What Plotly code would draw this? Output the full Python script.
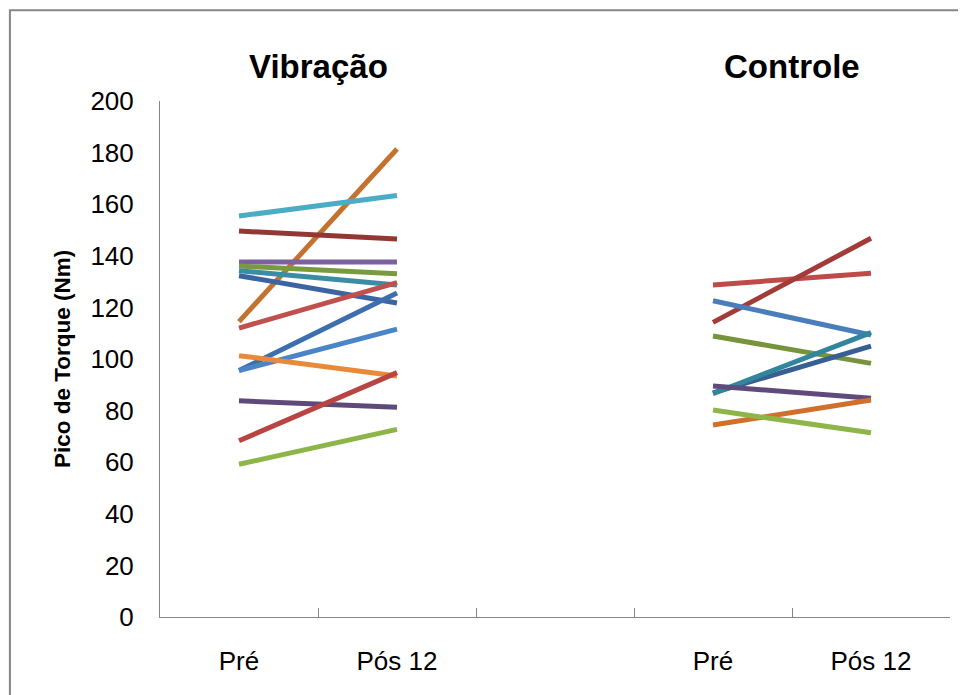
import plotly.graph_objects as go

# ---- data ----
categories = ["Pré", "Pós 12", "", "Pré", "Pós 12"]
group_titles = ["Vibração", "Controle"]
y_title = "Pico de Torque (Nm)"
y_ticks = [0, 20, 40, 60, 80, 100, 120, 140, 160, 180, 200]

vibracao_pre = [114.5, 155.4, 149.6, 137.6, 136.0, 134.2, 132.3, 112.0, 95.5, 95.5, 101.3, 83.8, 68.3, 59.2]
vibracao_pos = [181.4, 163.4, 146.5, 137.6, 133.0, 128.7, 121.7, 129.6, 125.6, 111.6, 93.4, 81.3, 94.7, 72.7]

controle_pre = [128.7, 114.2, 122.6, 108.9, 86.9, 86.6, 89.5, 74.4, 80.2]
controle_pos = [133.2, 146.8, 109.3, 98.3, 105.0, 110.2, 84.8, 84.1, 71.4]

# ---- styles ----
vib_colors = ["#C47230", "#4BACC6", "#943634", "#7D60A0", "#7A9A3F", "#3A8DA5", "#3B64A0",
              "#C0504D", "#3D6FB0", "#4A85C8", "#E98A3B", "#5F497A", "#B94441", "#8DB548"]
ctl_colors = ["#BE4B48", "#A33B39", "#4A7EBB", "#77933C", "#376092", "#31859C", "#604A7B",
              "#D0702A", "#8DB548"]

FONT = "Liberation Sans, Arial, sans-serif"
GRAY = "#868686"
LW = 5

pos = list(range(len(categories)))
vib_x = [pos[0], pos[1]]
ctl_x = [pos[3], pos[4]]

fig = go.Figure()
for pre, post, col in zip(vibracao_pre, vibracao_pos, vib_colors):
    fig.add_trace(go.Scatter(x=vib_x, y=[pre, post], mode="lines",
                             line=dict(color=col, width=LW), showlegend=False, hoverinfo="y"))
for pre, post, col in zip(controle_pre, controle_pos, ctl_colors):
    fig.add_trace(go.Scatter(x=ctl_x, y=[pre, post], mode="lines",
                             line=dict(color=col, width=LW), showlegend=False, hoverinfo="y"))
# invisible trace so the label axis is drawn
fig.add_trace(go.Scatter(x=[pos[0]], y=[None], xaxis="x2", mode="lines",
                         showlegend=False, hoverinfo="skip"))

xr = [pos[0] - 0.5, pos[-1] + 0.5]
boundaries = [p + 0.5 for p in [pos[0] - 1] + pos]

fig.update_layout(
    width=966, height=695,
    margin=dict(l=152, r=24, t=93, b=86),
    plot_bgcolor="white", paper_bgcolor="white",
    font=dict(family=FONT, color="black"),
    xaxis=dict(range=xr, tickvals=boundaries, showticklabels=False, ticks="inside",
               ticklen=9, tickcolor=GRAY, tickwidth=1, showline=True, linecolor=GRAY,
               linewidth=1, showgrid=False, zeroline=False, fixedrange=True),
    xaxis2=dict(overlaying="x", side="bottom", range=xr,
                tickvals=[p for p, c in zip(pos, categories) if c],
                ticktext=[c for c in categories if c],
                ticks="", showline=False, showgrid=False, zeroline=False,
                tickfont=dict(size=26, family=FONT, color="black"), ticklabelstandoff=26),
    yaxis=dict(range=[0, 200], tickvals=y_ticks, ticks="", showline=True, linecolor=GRAY,
               linewidth=1, showgrid=False, zeroline=False,
               tickfont=dict(size=26, family=FONT, color="black"), ticklabelstandoff=20),
    shapes=[dict(type="rect", xref="paper", yref="paper", x0=-0.19, x1=1.2, y0=-0.4, y1=1.176,
                 line=dict(color=GRAY, width=2), fillcolor="rgba(0,0,0,0)", layer="below")],
    annotations=[
        dict(text="<b>" + group_titles[0] + "</b>", x=(vib_x[0] + vib_x[1]) / 2, xref="x", y=1.066, yref="paper",
             showarrow=False, font=dict(size=33, family=FONT, color="black"), xanchor="center", yanchor="middle"),
        dict(text="<b>" + group_titles[1] + "</b>", x=(ctl_x[0] + ctl_x[1]) / 2, xref="x", y=1.066, yref="paper",
             showarrow=False, font=dict(size=33, family=FONT, color="black"), xanchor="center", yanchor="middle"),
        dict(text="<b>" + y_title + "</b>", x=-0.124, xref="paper", y=0.5, yref="paper", textangle=-90,
             showarrow=False, font=dict(size=22.5, family=FONT, color="black"), xanchor="center", yanchor="middle"),
    ],
)

fig.write_html("out.html")
